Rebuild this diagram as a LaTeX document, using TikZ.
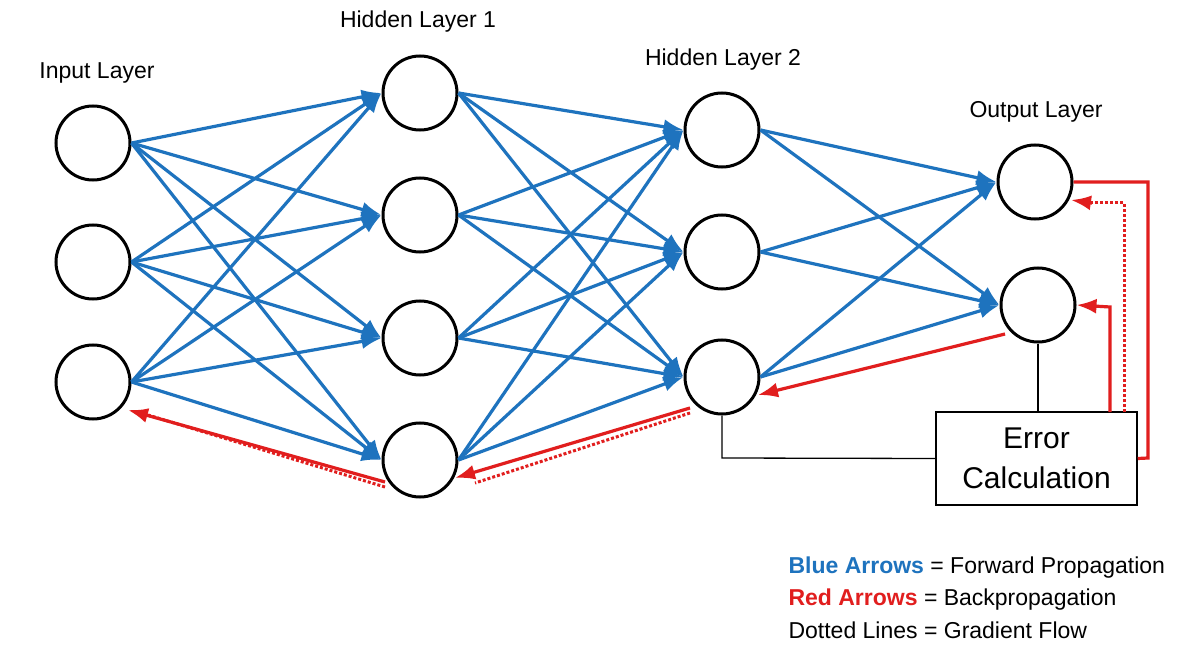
\documentclass[tikz,border=0pt]{standalone}
\usepackage{fontspec}
\setmainfont{Liberation Sans}
\usetikzlibrary{arrows.meta}
\definecolor{fb}{RGB}{30,115,190}
\definecolor{bp}{RGB}{225,30,30}
\begin{document}
\begin{tikzpicture}[x=1pt,y=-1pt,
  neuron/.style={circle,draw=black,line width=3pt,minimum size=74pt,inner sep=0pt},
  fwd/.style={draw=fb,line width=3.2pt,-{Latex[length=20pt,width=15pt]}},
  back/.style={draw=bp,line width=3.2pt},
  backa/.style={back,-{Latex[length=20pt,width=15pt]}},
  dot/.style={draw=bp,line width=3pt,dash pattern=on 3pt off 2pt},
  thin/.style={draw=black,line width=1.3pt},
  lbl/.style={font=\fontsize{23}{27}\selectfont}]
\useasboundingbox (0,0) rectangle (1200,655);
\fill[white] (0,0) rectangle (1200,655);
\node[neuron] (i1) at (93,143) {};
\node[neuron] (i2) at (93,262) {};
\node[neuron] (i3) at (93,382) {};
\node[neuron] (h1) at (420,93) {};
\node[neuron] (h2) at (420,215) {};
\node[neuron] (h3) at (420,338) {};
\node[neuron] (h4) at (420,460) {};
\node[neuron] (g1) at (722,130) {};
\node[neuron] (g2) at (722,252) {};
\node[neuron] (g3) at (722,377) {};
\node[neuron] (o1) at (1035,182) {};
\node[neuron] (o2) at (1038,305) {};
\node[lbl] (li) at (97,73) {Input Layer};
\node[lbl] (lh1) at (418,22) {Hidden Layer 1};
\node[lbl] (lh2) at (723,60) {Hidden Layer 2};
\node[lbl] (lo) at (1036,112) {Output Layer};
\node[draw=black,line width=1.5pt,minimum width=201pt,minimum height=93pt,align=center,
  font=\fontsize{30}{40}\selectfont] (err) at (1036.5,458.5) {Error\\Calculation};
\foreach \a in {i1,i2,i3}{\foreach \b in {h1,h2,h3,h4}{\draw[fwd] (\a.east) -- (\b.west);}}
\foreach \a in {h1,h2,h3,h4}{\foreach \b in {g1,g2,g3}{\draw[fwd] (\a.east) -- (\b.west);}}
\foreach \a in {g1,g2,g3}{\foreach \b in {o1,o2}{\draw[fwd] (\a.east) -- (\b.west);}}
% error connections
\draw[thin] (o2.south) -- (err.north -| o2.south);
\coordinate (c1) at (722,458);
\draw[thin] (g3.south) -- (c1) -- (err.west);
% red feedback
\coordinate (r1) at (1148,458);
\coordinate (r2) at (1148,182);
\draw[back] (err.east) -- (r1) -- (r2) -- (o1.east);
\coordinate (d1) at (1124,412);
\coordinate (d2) at (1124,203);
\coordinate (d3) at (1071,200);
\draw[dot] (d1) -- (d2) -- (1090,203);
\draw[backa] (1092,203) -- (d3);
\coordinate (s1) at (1110,412);
\coordinate (s2) at (1110,307);
\draw[backa] (s1) -- (s2) -- (o2.east);
\coordinate (e1) at (1005,334);
\coordinate (e2) at (758,395);
\draw[backa] (e1) -- (e2);
\coordinate (f1) at (690,408);
\coordinate (f2) at (455,478);
\draw[backa] (f1) -- (f2);
\draw[dot] ([yshift=-5pt]f1) -- ([yshift=-5pt,xshift=20pt]f2);
\coordinate (k1) at (385,482);
\coordinate (k2) at (128,410);
\draw[backa] (k1) -- (k2);
\draw[dot] ([yshift=-5pt]k1) -- ([yshift=-5pt,xshift=20pt]k2);
% legend
\node[lbl,anchor=west] (lg1) at (785,568) {\textcolor{fb}{\textbf{Blue Arrows}} = Forward Propagation};
\node[lbl,anchor=west] (lg2) at (785,600) {\textcolor{bp}{\textbf{Red Arrows}} = Backpropagation};
\node[lbl,anchor=west] (lg3) at (785,630) {Dotted Lines = Gradient Flow};
\end{tikzpicture}
\end{document}
